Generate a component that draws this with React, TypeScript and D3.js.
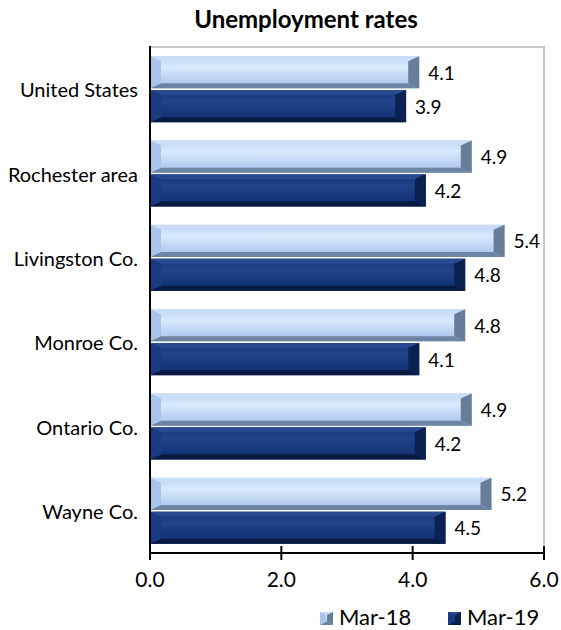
import React from "react";
import * as d3 from "d3";

const categories = ["United States", "Rochester area", "Livingston Co.", "Monroe Co.", "Ontario Co.", "Wayne Co."];
const seriesNames = ["Mar-18", "Mar-19"];
const mar18 = [4.1, 4.9, 5.4, 4.8, 4.9, 5.2];
const mar19 = [3.9, 4.2, 4.8, 4.1, 4.2, 4.5];
const xTicks = [0, 2, 4, 6];
const title = "Unemployment rates";

const W = 561, H = 630;
const X0 = 150, X1 = 544, Y0 = 47, Y1 = 553;
const FONT = "Lato, 'Open Sans', sans-serif";

type Pal = { grad: string; top: string; bottom: string; left: string; right: string };
const pals: Pal[] = [
  { grad: "gLight", top: "#c9ddf6", bottom: "#6d84a3", left: "#a9c4ea", right: "#677d9a" },
  { grad: "gDark", top: "#284a90", bottom: "#081a42", left: "#1a3a82", right: "#0b2152" },
];

function Bevel({ x0, x1, y0, y1, pal, bx, by }: { x0: number; x1: number; y0: number; y1: number; pal: Pal; bx: number; by: number }) {
  const b = Math.min(bx, (x1 - x0) / 2);
  const p = (pts: number[][]) => pts.map((q) => q.join(",")).join(" ");
  return (
    <g>
      <rect x={x0} y={y0} width={x1 - x0} height={y1 - y0} fill={`url(#${pal.grad})`} />
      <polygon points={p([[x0, y0], [x1, y0], [x1 - b, y0 + by], [x0 + b, y0 + by]])} fill={pal.top} />
      <polygon points={p([[x0, y1], [x1, y1], [x1 - b, y1 - by], [x0 + b, y1 - by]])} fill={pal.bottom} />
      <polygon points={p([[x0, y0], [x0 + b, y0 + by], [x0 + b, y1 - by], [x0, y1]])} fill={pal.left} />
      <polygon points={p([[x1, y0], [x1 - b, y0 + by], [x1 - b, y1 - by], [x1, y1]])} fill={pal.right} />
    </g>
  );
}

export default function App() {
  const x = d3.scaleLinear().domain([0, 6]).range([X0, X1]);
  const y = d3.scaleBand<string>().domain(categories).range([Y0, Y1]).paddingInner(0.217).paddingOuter(0.1085);
  const ys = d3.scaleBand<string>().domain(seriesNames).range([0, y.bandwidth()]).paddingInner(0.05);
  const series = [mar18, mar19];

  return (
    <svg width={W} height={H} style={{ position: "absolute", left: 0, top: 0 }} fontFamily={FONT}>
      <defs>
        <linearGradient id="gLight" x1="0" y1="0" x2="0" y2="1">
          <stop offset="0" stopColor="#bcd4f3" />
          <stop offset="0.35" stopColor="#d9eafd" />
          <stop offset="1" stopColor="#a3bfe7" />
        </linearGradient>
        <linearGradient id="gDark" x1="0" y1="0" x2="0" y2="1">
          <stop offset="0" stopColor="#163577" />
          <stop offset="0.35" stopColor="#21448a" />
          <stop offset="1" stopColor="#0f2b6e" />
        </linearGradient>
      </defs>
      <rect width={W} height={H} fill="#fff" />
      <text x={306} y={28} textAnchor="middle" fontWeight="bold" fontSize={24} fill="#000">{title}</text>
      <rect x={X0} y={Y0} width={X1 - X0} height={Y1 - Y0} fill="none" stroke="#c8c8c8" strokeWidth={2} />
      {categories.map((c, i) => (
        <g key={c}>
          <text x={138} y={(y(c) as number) + y.bandwidth() / 2} textAnchor="end" dominantBaseline="central" fontSize={20} fill="#000">{c}</text>
          {series.map((s, j) => {
            const by0 = (y(c) as number) + (ys(seriesNames[j]) as number);
            const by1 = by0 + ys.bandwidth();
            return (
              <g key={j}>
                <Bevel x0={x(0)} x1={x(s[i])} y0={by0} y1={by1} pal={pals[j]} bx={11} by={5} />
                <text x={x(s[i]) + 9} y={(by0 + by1) / 2} dominantBaseline="central" fontSize={19} fill="#000">{s[i].toFixed(1)}</text>
              </g>
            );
          })}
        </g>
      ))}
      <line x1={X0} x2={X1} y1={Y1} y2={Y1} stroke="#000" strokeWidth={2} />
      <line x1={X0} x2={X0} y1={Y0 - 1} y2={Y1 + 7} stroke="#000" strokeWidth={2} />
      {xTicks.map((t) => (
        <g key={t}>
          <line x1={x(t)} x2={x(t)} y1={Y1 - 7} y2={Y1 + 7} stroke="#000" strokeWidth={2} />
          <text x={x(t)} y={587} textAnchor="middle" fontSize={21} fill="#000">{t.toFixed(1)}</text>
        </g>
      ))}
      {seriesNames.map((n, j) => {
        const lx = [320, 448][j];
        return (
          <g key={n}>
            <Bevel x0={lx} x1={lx + 13} y0={612} y1={625} pal={pals[j]} bx={6} by={3} />
            <text x={lx + 19} y={625} fontSize={22} fill="#000">{n}</text>
          </g>
        );
      })}
    </svg>
  );
}
